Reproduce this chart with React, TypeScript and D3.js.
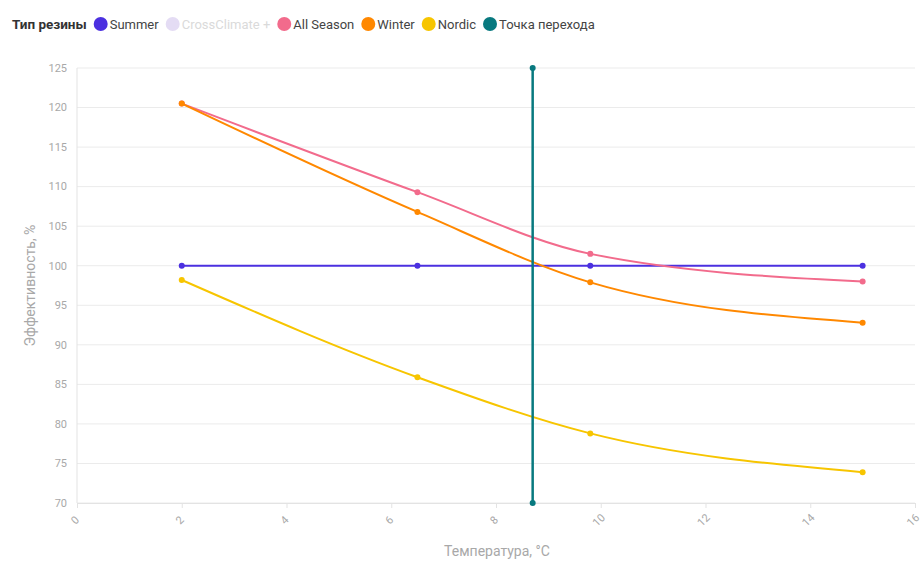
import * as d3 from "d3";
import { useEffect, useRef } from "react";

const temps = [2, 6.5, 9.8, 15];
const summer = [100, 100, 100, 100];
const allSeason = [120.5, 109.3, 101.5, 98];
const winter = [120.5, 106.8, 97.9, 92.8];
const nordic = [98.2, 85.9, 78.8, 73.9];
const crossTemp = [8.7, 8.7];
const crossValues = [70, 125];

const legendNames = ["Summer", "CrossClimate +", "All Season", "Winter", "Nordic", "Точка перехода"];
const legendColors = ["#4b30e0", "#e4dcf4", "#f26b8c", "#ff8800", "#f7c500", "#08797f"];
const yTicks = [70, 75, 80, 85, 90, 95, 100, 105, 110, 115, 120, 125];
const xTicks = [0, 2, 4, 6, 8, 10, 12, 14, 16];

export default function App() {
  const ref = useRef<SVGSVGElement>(null);

  useEffect(() => {
    document.body.style.margin = "0";
    const width = 924;
    const height = 567;
    const margin = { top: 68, right: 9, bottom: 64, left: 77 };
    const innerWidth = width - margin.left - margin.right;
    const innerHeight = height - margin.top - margin.bottom;
    const font = "'Source Sans Pro', Roboto, sans-serif";

    const svg = d3.select(ref.current);
    svg.selectAll("*").remove();
    svg.attr("width", width).attr("height", height).style("font-family", font);

    const x = d3.scaleLinear().domain([0, 16]).range([0, innerWidth]);
    const y = d3.scaleLinear().domain([70, 125]).range([innerHeight, 0]);

    const g = svg.append("g").attr("transform", `translate(${margin.left},${margin.top})`);

    // grid
    g.selectAll(".grid")
      .data(yTicks)
      .enter()
      .append("line")
      .attr("x1", 0)
      .attr("x2", innerWidth)
      .attr("y1", (d) => y(d))
      .attr("y2", (d) => y(d))
      .attr("stroke", "#ebebeb")
      .attr("stroke-width", 1);

    g.append("line")
      .attr("x1", 0)
      .attr("x2", 0)
      .attr("y1", 0)
      .attr("y2", innerHeight)
      .attr("stroke", "#e3e3e3");

    // y axis labels
    g.selectAll(".ytick")
      .data(yTicks)
      .enter()
      .append("text")
      .attr("x", -10)
      .attr("y", (d) => y(d))
      .attr("dy", "0.35em")
      .attr("text-anchor", "end")
      .attr("font-size", 11)
      .attr("fill", "#a8a8a8")
      .text((d) => d);

    // x axis
    const xAxis = d3.axisBottom(x).tickValues(xTicks).tickSizeInner(5).tickSizeOuter(0).tickFormat(() => "");
    const xg = g.append("g").attr("transform", `translate(0,${innerHeight})`).call(xAxis);
    xg.select(".domain").attr("stroke", "#e3e3e3");
    xg.selectAll(".tick line").attr("stroke", "#e3e3e3");

    g.selectAll(".xlabel")
      .data(xTicks)
      .enter()
      .append("text")
      .attr("x", (d) => x(d) - 2)
      .attr("y", innerHeight + 17)
      .attr("dy", "0.35em")
      .attr("text-anchor", "middle")
      .attr("font-size", 11)
      .attr("fill", "#a8a8a8")
      .attr("transform", (d) => `rotate(-45,${x(d) - 2},${innerHeight + 17})`)
      .text((d) => d);

    // axis titles
    svg
      .append("text")
      .attr("x", 497)
      .attr("y", 556)
      .attr("text-anchor", "middle")
      .attr("font-size", 14)
      .attr("fill", "#a8a8a8")
      .text("Температура, °C");

    svg
      .append("text")
      .attr("transform", `translate(35,${margin.top + innerHeight / 2}) rotate(-90)`)
      .attr("text-anchor", "middle")
      .attr("font-size", 14)
      .attr("fill", "#a8a8a8")
      .text("Эффективность, %");

    const line = d3
      .line<[number, number]>()
      .x((d) => x(d[0]))
      .y((d) => y(d[1]))
      .curve(d3.curveMonotoneX);

    const series = [
      { values: summer, color: legendColors[0] },
      { values: allSeason, color: legendColors[2] },
      { values: winter, color: legendColors[3] },
      { values: nordic, color: legendColors[4] },
    ];

    series.forEach((s) => {
      const pts: [number, number][] = temps.map((t, i) => [t, s.values[i]]);
      g.append("path")
        .datum(pts)
        .attr("d", line)
        .attr("fill", "none")
        .attr("stroke", s.color)
        .attr("stroke-width", 2);
      g.selectAll(null)
        .data(pts)
        .enter()
        .append("circle")
        .attr("cx", (d) => x(d[0]))
        .attr("cy", (d) => y(d[1]))
        .attr("r", 3)
        .attr("fill", s.color);
    });

    // transition point
    const crossPts: [number, number][] = crossTemp.map((t, i) => [t, crossValues[i]]);
    g.append("path")
      .datum(crossPts)
      .attr("d", d3.line<[number, number]>().x((d) => x(d[0])).y((d) => y(d[1])))
      .attr("stroke", legendColors[5])
      .attr("stroke-width", 2.5)
      .attr("fill", "none");
    g.selectAll(null)
      .data(crossPts)
      .enter()
      .append("circle")
      .attr("cx", (d) => x(d[0]))
      .attr("cy", (d) => y(d[1]))
      .attr("r", 3)
      .attr("fill", legendColors[5]);

    // legend
    const legend = svg.append("g").attr("transform", "translate(12,24)");
    const title = legend
      .append("text")
      .attr("x", 0)
      .attr("dy", "0.35em")
      .attr("font-size", 13.5)
      .attr("font-weight", "bold")
      .attr("fill", "#333")
      .text("Тип резины");
    let cx = (title.node() as SVGTextElement).getComputedTextLength() + 7;
    legendNames.forEach((name, i) => {
      const faded = i === 1;
      legend
        .append("circle")
        .attr("cx", cx + 7)
        .attr("cy", 0)
        .attr("r", 7)
        .attr("fill", legendColors[i]);
      const t = legend
        .append("text")
        .attr("x", cx + 16)
        .attr("dy", "0.35em")
        .attr("font-size", 13)
        .attr("fill", faded ? "#dadada" : "#444")
        .text(name);
      cx += 16 + (t.node() as SVGTextElement).getComputedTextLength() + 7;
    });
  }, []);

  return <svg ref={ref}></svg>;
}
